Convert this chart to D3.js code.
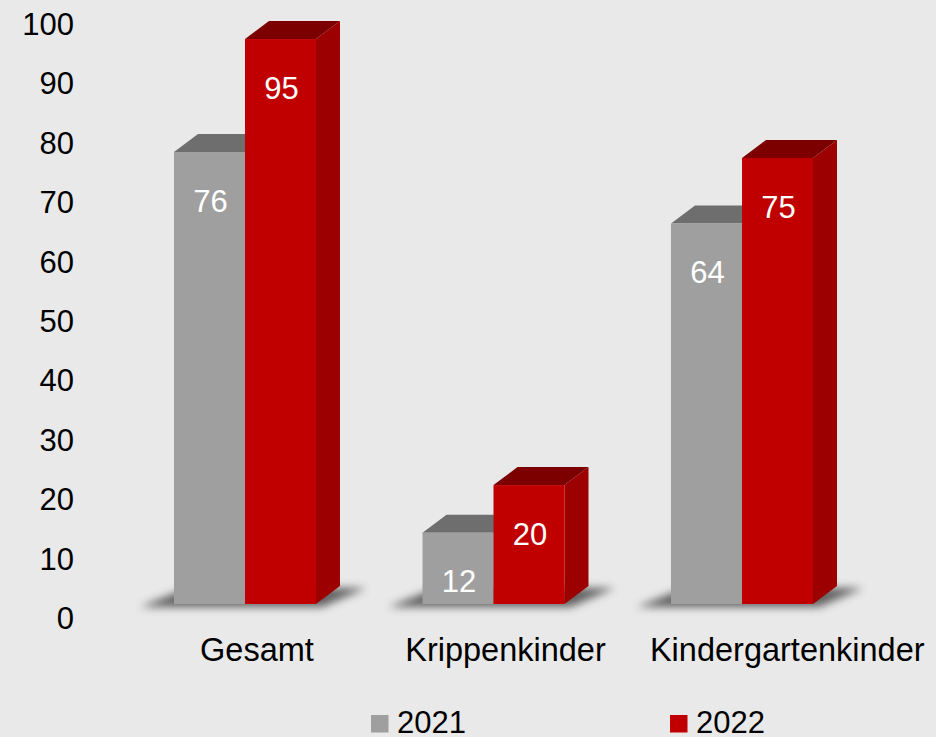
<!DOCTYPE html>
<html><head><meta charset="utf-8">
<script src="https://cdn.jsdelivr.net/npm/d3@7"></script>
<style>
html,body{margin:0;padding:0;background:#e9e9e9;}
svg{display:block;font-family:"Liberation Sans",Arial,sans-serif;}
</style></head>
<body>
<svg id="chart" width="936" height="737"></svg>
<script>
const categories = ["Gesamt", "Krippenkinder", "Kindergartenkinder"];
const seriesNames = ["2021", "2022"];
const values2021 = [76, 12, 64];
const values2022 = [95, 20, 75];
const yTicks = [0, 10, 20, 30, 40, 50, 60, 70, 80, 90, 100];

const W = 936, H = 737;
const svg = d3.select("#chart");
svg.append("rect").attr("width", W).attr("height", H).attr("fill", "#e9e9e9");

const colors = {
  "2021": {front: "#9f9f9f", top: "#6e6e6e", side: "#7f7f7f"},
  "2022": {front: "#c00000", top: "#7c0000", side: "#9c0000"}
};
const depthX = 24, depthY = 18;
const axisShift = 14; // 3D projection: back-wall axis labels sit below front base

const y = d3.scaleLinear().domain([0, 100]).range([604, 604 - 100 * 5.947]);
const x = d3.scaleBand().domain(categories).range([110, 877]).paddingInner(0.4286).paddingOuter(0.2575);
const xs = d3.scaleBand().domain(seriesNames).range([0, x.bandwidth()]).padding(0);

const defs = svg.append("defs");
const f = defs.append("filter").attr("id", "blur").attr("x", "-20%").attr("y", "-50%").attr("width", "140%").attr("height", "200%");
f.append("feGaussianBlur").attr("stdDeviation", 4.5);

// y axis labels
const yAxis = d3.axisLeft(d3.scaleLinear().domain([0, 100]).range([y(0) + axisShift, y(100) + axisShift]))
  .tickValues(yTicks).tickSize(0).tickPadding(0);
const ga = svg.append("g").attr("transform", "translate(74,0)").call(yAxis);
ga.select(".domain").remove();
ga.selectAll("text").attr("font-size", 31).attr("fill", "#000").attr("dy", "0.35em")
  .attr("font-family", "'Liberation Sans',Arial,sans-serif");

// shadows
const base = y(0);
categories.forEach(c => {
  const x0 = x(c), x1 = x(c) + x.bandwidth();
  svg.append("path")
    .attr("d", d3.line()([[x0 - 34, base + 3], [x1 + 6, base + 3], [x1 + depthX + 26, base - depthY + 2], [x0 + depthX - 10, base - depthY + 2]]) + "Z")
    .attr("fill", "#4a4a4a").attr("opacity", 0.85).attr("filter", "url(#blur)");
});

const data = categories.map((c, i) => ({cat: c, vals: [{s: "2021", v: values2021[i]}, {s: "2022", v: values2022[i]}]}));

const groups = svg.selectAll("g.grp").data(data).join("g").attr("class", "grp");
groups.each(function(d) {
  const g = d3.select(this);
  d.vals.forEach(b => {
    const bx = x(d.cat) + xs(b.s), bw = xs.bandwidth();
    const top = y(b.v), bot = y(0);
    const col = colors[b.s];
    g.append("path").attr("d", d3.line()([[bx + bw, top], [bx + bw + depthX, top - depthY], [bx + bw + depthX, bot - depthY], [bx + bw, bot]]) + "Z")
      .attr("fill", col.side);
    g.append("path").attr("d", d3.line()([[bx, top], [bx + depthX, top - depthY], [bx + bw + depthX, top - depthY], [bx + bw, top]]) + "Z")
      .attr("fill", col.top);
    g.append("rect").attr("x", bx).attr("y", top).attr("width", bw).attr("height", bot - top).attr("fill", col.front);
    g.append("text").attr("x", bx + bw / 2 + 1).attr("y", top + 49).attr("dy", "0.35em")
      .attr("text-anchor", "middle").attr("fill", "#fff").attr("font-size", 31).text(b.v);
  });
});

// category labels (centered, then pushed right to keep a minimum gap)
const catLabels = svg.selectAll("text.cat").data(categories).join("text").attr("class", "cat")
  .attr("x", c => x(c) + x.bandwidth() / 2 + 12).attr("y", 661)
  .attr("text-anchor", "middle").attr("font-size", 32.5).attr("fill", "#000").text(c => c);
let prevRight = -Infinity;
const minGap = 44;
catLabels.each(function() {
  const t = d3.select(this);
  const bb = this.getBBox();
  if (bb.x < prevRight + minGap) {
    const shift = prevRight + minGap - bb.x;
    t.attr("x", +t.attr("x") + shift);
    prevRight = bb.x + shift + bb.width;
  } else {
    prevRight = bb.x + bb.width;
  }
});

// legend
const legendX = d3.scalePoint().domain(seriesNames).range([371, 670]);
const lg = svg.selectAll("g.leg").data(seriesNames).join("g").attr("class", "leg")
  .attr("transform", s => `translate(${legendX(s)},715)`);
lg.append("rect").attr("width", 17.5).attr("height", 17.5).attr("fill", s => colors[s].front);
lg.append("text").attr("x", 26).attr("y", 18).attr("font-size", 31).attr("fill", "#000").text(s => s);
</script>
</body></html>
